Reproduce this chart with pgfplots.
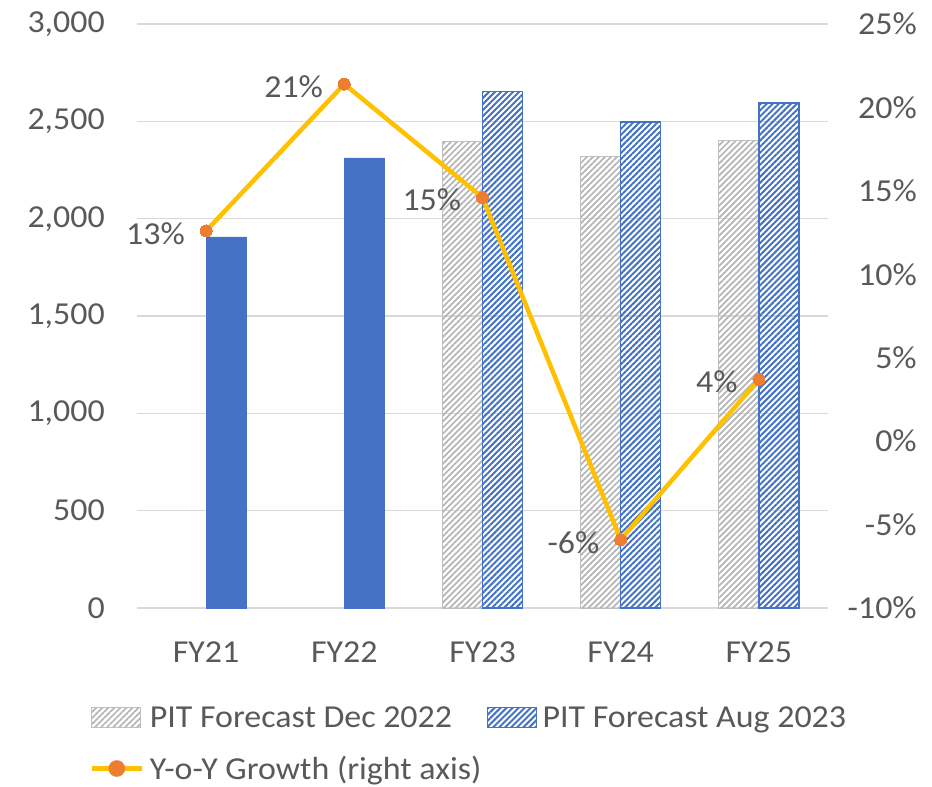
\documentclass[border=0pt]{standalone}
\usepackage{pgfplots}
\pgfplotsset{compat=1.18}
\usepackage{fontspec}
\setmainfont{Carlito}[FakeStretch=1.06]
\usetikzlibrary{patterns.meta}
\definecolor{xblue}{HTML}{4472C4}
\definecolor{xgrey}{HTML}{BFBFBF}
\definecolor{gridc}{HTML}{D9D9D9}
\definecolor{txt}{HTML}{595959}
\definecolor{gold}{HTML}{FFC000}
\definecolor{orng}{HTML}{ED7D31}
\newcommand{\bigf}{\fontsize{24}{28}\selectfont}
\begin{document}
\begin{tikzpicture}
\useasboundingbox (-102.75pt,-133.5pt) rectangle (596.25pt,456pt);
\begin{axis}[
  scale only axis, width=518.25pt, height=438pt,
  xmin=-0.5, xmax=4.5, ymin=0, ymax=3000,
  xtick={0,1,2,3,4}, xticklabels={FY21,FY22,FY23,FY24,FY25},
  ytick={0,500,1000,1500,2000,2500,3000},
  yticklabels={0,500,{1,000},{1,500},{2,000},{2,500},{3,000}},
  axis line style={draw=none}, major tick length=0pt,
  ymajorgrids, grid style={gridc, line width=0.9pt},
  tick label style={font=\bigf, text=txt, inner sep=0pt},
  yticklabel style={anchor=east, xshift=-24pt},
  xticklabel style={anchor=north, yshift=-25pt},
  ybar, bar width=30pt,
]
\addplot[draw=xgrey, line width=0.75pt, pattern={Lines[angle=45,distance=3.2pt,line width=1.3pt]}, pattern color=xgrey!95!black, bar shift=-15pt]
  coordinates {(2,2395) (3,2318) (4,2402)};
\addplot[draw=xblue, fill=xblue, bar shift=15pt]
  coordinates {(0,1907) (1,2312)};
\addplot[draw=xblue, line width=1pt, pattern={Lines[angle=45,distance=3.2pt,line width=1.5pt]}, pattern color=xblue, bar shift=15pt]
  coordinates {(2,2652) (3,2497) (4,2595)};
\end{axis}
\begin{axis}[
  scale only axis, width=518.25pt, height=438pt,
  xmin=-0.5, xmax=4.5, ymin=-10, ymax=25,
  axis y line*=right, axis x line=none,
  ytick={-10,-5,0,5,10,15,20,25},
  yticklabels={-10\%,-5\%,0\%,5\%,10\%,15\%,20\%,25\%},
  axis line style={draw=none}, major tick length=0pt,
  tick label style={font=\bigf, text=txt, inner sep=0pt},
  yticklabel style={anchor=east, xshift=66.75pt},
  legend columns=2,
  legend cell align=left,
  legend style={at={(axis description cs:-0.0695,-0.168)}, anchor=north west,
    draw=none, fill=none, font=\bigf, text=txt, inner sep=0pt,
    nodes={inner sep=0pt},
    row sep=20pt,
    /tikz/every odd column/.append style={column sep=4pt},
    /tikz/every even column/.append style={column sep=4pt}},
]
\addlegendimage{legend image code/.code={\draw[draw=xgrey, line width=0.75pt, pattern={Lines[angle=45,distance=3.2pt,line width=1.3pt]}, pattern color=xgrey!95!black] (0pt,-7.5pt) rectangle (36.75pt,7.5pt);}}
\addlegendentry{PIT Forecast Dec 2022}
\addlegendimage{legend image code/.code={\draw[draw=xblue, line width=1pt, pattern={Lines[angle=45,distance=3.2pt,line width=1.5pt]}, pattern color=xblue] (0pt,-7.5pt) rectangle (36.75pt,7.5pt);}}
\addlegendentry{PIT Forecast Aug 2023}
\addplot[gold, line width=3.4pt, mark=*, mark size=4.5pt,
  mark options={fill=orng, draw=orng, line width=0pt},
  nodes near coords, point meta=explicit symbolic,
  every node near coord/.append style={anchor=east, xshift=-16pt, yshift=-2pt, font=\bigf, text=txt, inner sep=0pt},
  legend image code/.code={\draw[gold, line width=3.4pt] (0pt,0pt)--(38pt,0pt); \fill[orng] (19pt,0pt) circle (4.5pt);}]
  coordinates {(0,12.6) [13\%] (1,21.4) [21\%] (2,14.6) [15\%] (3,-5.9) [-6\%] (4,3.7) [4\%]};
\addlegendentry{Y-o-Y Growth (right axis)}
\end{axis}
\end{tikzpicture}
\end{document}
